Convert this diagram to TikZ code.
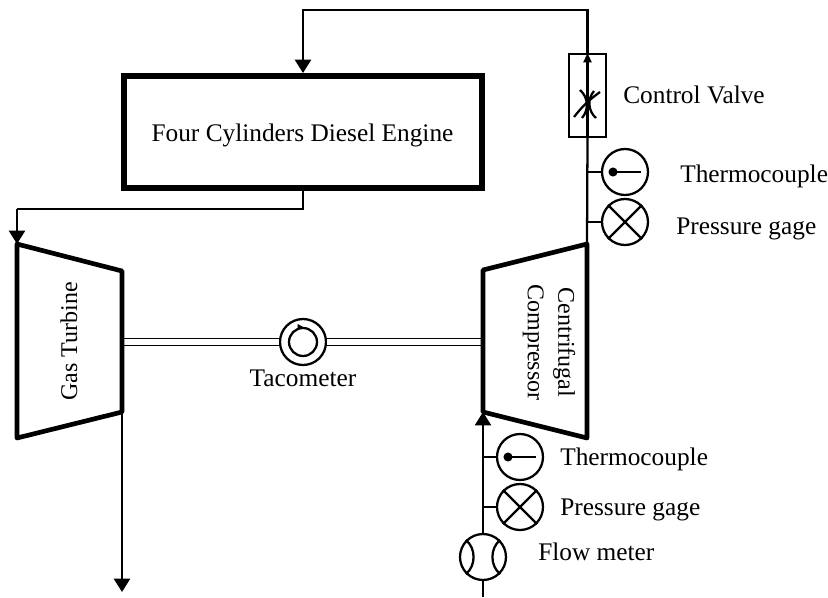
\documentclass[tikz,border=0pt]{standalone}
\usepackage{fontspec}
\setmainfont{Liberation Serif}
\usetikzlibrary{arrows.meta,calc}
\tikzset{
  pipe/.style={line width=1.7pt},
  flow/.style={pipe,-{Triangle[length=10pt,width=12pt]}},
  heavy/.style={line width=3.5pt,line join=round},
  gage/.style={circle,draw,line width=1.7pt,fill=white,minimum size=34.5pt,inner sep=0pt},
  shaft/.style={line width=1.1pt,double,double distance=3.8pt},
  lbl/.style={font=\fontsize{19}{21}\selectfont,inner sep=0pt},
  sidelbl/.style={font=\fontsize{18}{20}\selectfont,inner sep=0pt}
}
\begin{document}
\begin{tikzpicture}[x=0.75pt,y=-0.75pt]
  \useasboundingbox (0,0) rectangle (828,597);

  % engine and the two machines
  \node[draw,line width=4.4pt,minimum width=268pt,minimum height=84pt] (engine) at (303,132) {};
  \node[lbl] (enginename) at (302.5,135) {Four Cylinders Diesel Engine};
  \coordinate (gtA) at (17,244); \coordinate (gtB) at (122,271);
  \coordinate (gtC) at (122,412); \coordinate (gtD) at (17,438);
  \coordinate (ccA) at (587,244); \coordinate (ccB) at (483,270);
  \coordinate (ccC) at (483,412); \coordinate (ccD) at (587,438);

  % shaft
  \node[gage] (tacho) at (303,342) {};
  \node[circle,draw,pipe,minimum size=21pt,inner sep=0pt] (tachoin) at (303,342) {};
  \coordinate (gtShaft) at (122,342);
  \coordinate (ccShaft) at (483,342);
  \draw[shaft] (gtShaft) -- (tacho);
  \draw[shaft] (ccShaft) -- (tacho);
  \draw[line width=1pt,-{Triangle[length=4pt,width=4pt]}] (tachoin.north) ++(-3,0) -- (tachoin.north);
  \node[lbl,below=3pt] (tachoname) at (tacho.south) {Tacometer};

  \draw[heavy] (gtA) -- (gtB) -- (gtC) -- (gtD) -- cycle;
  \draw[heavy] (ccA) -- (ccB) -- (ccC) -- (ccD) -- cycle;
  \node[sidelbl,rotate=90] (gtname) at (69,341.5) {Gas Turbine};
  \node[sidelbl,rotate=-90,align=center] (ccname) at (549,342.5) {Centrifugal\\[3pt]Compressor};

  % valve on the delivery line
  \node[draw,pipe,minimum width=28pt,minimum height=62pt,inner sep=0pt] (valve) at (587.5,95.5) {};
  \node[lbl,anchor=west] (valvename) at (623,95) {Control Valve};
  \coordinate (top) at (587.5,10);
  \draw[pipe] (ccA) -- (valve.south);
  \draw[pipe,-{Triangle[length=7pt,width=6pt]}] (valve.south) -- (valve.north);
  \draw[flow] (valve.north) -- (top) -- (top -| engine.north) -- (engine.north);
  \draw[pipe] (580,90) to[bend left=45] (582,118);
  \draw[pipe] (594,91) to[bend right=45] (596,118);
  \draw[pipe] (574,117) to[bend left=8] (600,92);

  % engine to turbine, exhaust
  \coordinate (gtIn) at (17,209);
  \coordinate (gtOut) at (122,592);
  \draw[pipe] (engine.south) -- (engine.south |- gtIn) -- (gtIn);
  \draw[flow] (gtIn) -- (gtA);
  \draw[flow] (gtC) -- (gtOut);

  % gages
  \node[gage] (tcA) at (625,172) {};
  \node[gage] (pgA) at (625,222) {};
  \node[gage] (tcB) at (520,457) {};
  \node[gage] (pgB) at (520,507) {};
  \node[gage] (fm) at (483,557) {};
  \foreach \ii in {tcA,tcB} {
    \draw[line width=2.2pt] (\ii.center) ++(-12,0) -- ([xshift=12pt]\ii.center);
    \fill (\ii.center) ++(-12,0) circle (3.4pt);
  }
  \foreach \ii in {pgA,pgB} {
    \draw[pipe] (\ii.45) -- (\ii.225);
    \draw[pipe] (\ii.135) -- (\ii.315);
  }
  \foreach \ii in {tcA,pgA}
    \draw[pipe] (\ii.west) -- (\ii.west -| ccA);
  \foreach \ii in {tcB,pgB}
    \draw[pipe] (\ii.west) -- (\ii.west -| ccC);
  \draw[pipe] (fm.135) to[bend left=50] (fm.225);
  \draw[pipe] (fm.45) to[bend right=50] (fm.315);

  % suction line
  \coordinate (ccIn) at (483,597);
  \draw[pipe] (ccIn) -- (fm.south);
  \draw[flow] (fm.north) -- (ccC);

  % labels
  \node[lbl,anchor=west] (tcAname) at (680,176) {Thermocouple};
  \node[lbl,anchor=west] (pgAname) at (676,229) {Pressure gage};
  \node[lbl,anchor=west] (tcBname) at (560,459) {Thermocouple};
  \node[lbl,anchor=west] (pgBname) at (560,510) {Pressure gage};
  \node[lbl,anchor=west] (fmname) at (538,552) {Flow meter};
\end{tikzpicture}
\end{document}
